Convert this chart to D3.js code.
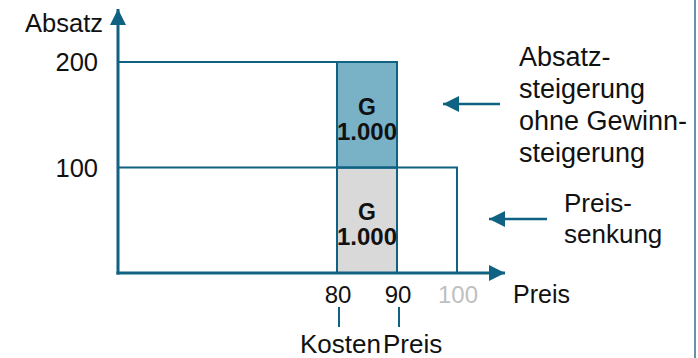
<!DOCTYPE html>
<html>
<head>
<meta charset="utf-8">
<script src="https://cdn.jsdelivr.net/npm/d3@7"></script>
<style>
  html, body { margin: 0; padding: 0; background: #fff; }
  svg { display: block; font-family: "Liberation Sans", Arial, sans-serif; }
</style>
</head>
<body>
<svg id="chart" width="698" height="358"></svg>
<script>
// Price / volume figures
const costPrice = 80;
const oldPrice = 100;
const newPrice = 90;
const oldVolume = 100;
const newVolume = 200;

// Axis ticks
const volumeTicks = [100, 200];
const priceTicks = [80, 90, 100];
const priceTickMuted = [false, false, true];

// Profit blocks between cost and new price
const blockLabels = ["G", "1.000"];
const blockY0 = [0, oldVolume];
const blockY1 = [oldVolume, newVolume];

// Side notes
const noteUpper = ["Absatz-", "steigerung", "ohne Gewinn-", "steigerung"];
const noteLower = ["Preis-", "senkung"];
const bottomNotes = ["Kosten", "Preis"];

const teal = "#0f6282";
const blueFill = "#79b2c7";
const greyFill = "#d9d9d9";

const svg = d3.select("#chart");

const x = d3.scaleLinear().domain([43.5, 108]).range([118, 505]);
const y = d3.scaleLinear().domain([0, 200]).range([273, 62]);
const x0 = x.range()[0];
const yBase = y(0);

// Profit blocks
const blocks = d3.range(blockY0.length);
svg.selectAll("rect.block").data(blocks).join("rect")
  .attr("class", "block")
  .attr("x", x(costPrice))
  .attr("width", x(newPrice) - x(costPrice))
  .attr("y", i => y(blockY1[i]))
  .attr("height", i => y(blockY0[i]) - y(blockY1[i]))
  .attr("fill", i => i === 0 ? greyFill : blueFill)
  .attr("stroke", teal)
  .attr("stroke-width", 2);

// Revenue outlines: old price at old volume, new price at new volume
const outlines = [[oldPrice, oldVolume], [newPrice, newVolume]];
svg.selectAll("path.outline").data(outlines).join("path")
  .attr("class", "outline")
  .attr("fill", "none")
  .attr("stroke", teal)
  .attr("stroke-width", 2)
  .attr("d", d => `M${x0},${y(d[1])}H${x(d[0])}V${yBase}`);

// Block labels
blocks.forEach(i => {
  const cy = (y(blockY0[i]) + y(blockY1[i])) / 2;
  const cx = (x(costPrice) + x(newPrice)) / 2;
  svg.append("text")
    .attr("x", cx)
    .attr("y", cy)
    .attr("text-anchor", "middle")
    .attr("font-weight", "bold")
    .attr("fill", "#111")
    .selectAll("tspan").data(blockLabels).join("tspan")
      .attr("x", cx)
      .attr("dy", (d, k) => k === 0 ? 0 : 25)
      .attr("font-size", (d, k) => k === 0 ? 23 : 24)
      .text(d => d);
});

// Arrow heads
const defs = svg.append("defs");
defs.append("marker")
  .attr("id", "head")
  .attr("viewBox", "0 0 10 10")
  .attr("refX", 10).attr("refY", 5)
  .attr("markerUnits", "userSpaceOnUse")
  .attr("markerWidth", 16).attr("markerHeight", 16)
  .attr("orient", "auto")
  .append("path").attr("d", "M0,0L10,5L0,10Z").attr("fill", teal);

// Axes
svg.append("line")
  .attr("x1", x0).attr("y1", yBase + 1.5).attr("x2", x0).attr("y2", 9)
  .attr("stroke", teal).attr("stroke-width", 3).attr("marker-end", "url(#head)");
svg.append("line")
  .attr("x1", x0 - 1.5).attr("y1", yBase).attr("x2", x.range()[1]).attr("y2", yBase)
  .attr("stroke", teal).attr("stroke-width", 3).attr("marker-end", "url(#head)");

// Y tick labels and title
svg.selectAll("text.ytick").data(volumeTicks).join("text")
  .attr("class", "ytick")
  .attr("x", 98).attr("y", d => y(d) + 9)
  .attr("text-anchor", "end")
  .attr("font-size", 25.5)
  .attr("fill", "#111")
  .text(d => d);
svg.append("text")
  .attr("x", 103).attr("y", 32)
  .attr("text-anchor", "end")
  .attr("font-size", 25.5)
  .attr("fill", "#111")
  .text("Absatz");

// X tick labels and title
svg.selectAll("text.xtick").data(priceTicks).join("text")
  .attr("class", "xtick")
  .attr("x", d => x(d) + 1).attr("y", 303)
  .attr("text-anchor", "middle")
  .attr("font-size", 24)
  .attr("fill", (d, i) => priceTickMuted[i] ? "#bfbfbf" : "#111")
  .text(d => d);
svg.append("text")
  .attr("x", 513).attr("y", 303)
  .attr("font-size", 25)
  .attr("fill", "#111")
  .text("Preis");

// Callouts for cost and price
[costPrice, newPrice].forEach(p => {
  svg.append("line")
    .attr("x1", x(p) + 2).attr("x2", x(p) + 2)
    .attr("y1", 307).attr("y2", 327)
    .attr("stroke", teal).attr("stroke-width", 2);
});
svg.append("text").attr("x", 300).attr("y", 353).attr("font-size", 26).attr("fill", "#111").text(bottomNotes[0]);
svg.append("text").attr("x", 383).attr("y", 353).attr("font-size", 26).attr("fill", "#111").text(bottomNotes[1]);

// Side notes with pointer arrows
svg.append("text")
  .attr("font-size", 27).attr("fill", "#111")
  .selectAll("tspan").data(noteUpper).join("tspan")
    .attr("x", 519).attr("y", (d, i) => 66 + i * 32)
    .text(d => d);
svg.append("line")
  .attr("x1", 500).attr("y1", 104).attr("x2", 443).attr("y2", 104)
  .attr("stroke", teal).attr("stroke-width", 2.5).attr("marker-end", "url(#head)");

svg.append("text")
  .attr("font-size", 26).attr("fill", "#111")
  .selectAll("tspan").data(noteLower).join("tspan")
    .attr("x", 564).attr("y", (d, i) => 212 + i * 31)
    .text(d => d);
svg.append("line")
  .attr("x1", 547).attr("y1", 219).attr("x2", 489).attr("y2", 219)
  .attr("stroke", teal).attr("stroke-width", 2.5).attr("marker-end", "url(#head)");

// Frame edge
svg.append("line")
  .attr("x1", 695).attr("x2", 695).attr("y1", 0).attr("y2", 358)
  .attr("stroke", "#2f6f8c").attr("stroke-width", 1.5);
</script>
</body>
</html>
